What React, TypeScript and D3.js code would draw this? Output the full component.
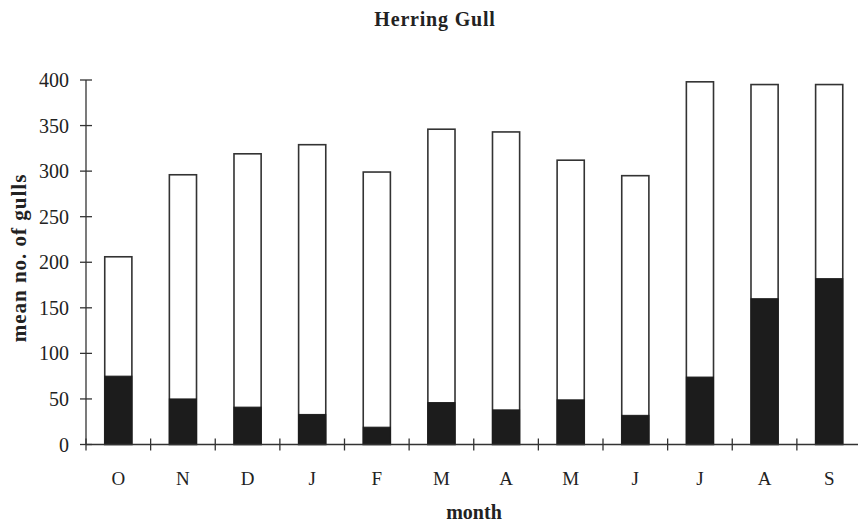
import React from "react";
import * as d3 from "d3";

const months = ["O", "N", "D", "J", "F", "M", "A", "M", "J", "J", "A", "S"];
const totals = [206, 296, 319, 329, 299, 346, 343, 312, 295, 398, 395, 395];
const blackValues = [75, 50, 41, 33, 19, 46, 38, 49, 32, 74, 160, 182];
const yTicks = [0, 50, 100, 150, 200, 250, 300, 350, 400];

const W = 858;
const H = 529;
const left = 86;
const right = 861.5;
const top = 80;
const bottom = 444.5;
const FONT = "'Liberation Serif', 'Times New Roman', serif";

export default function App() {
  const idx = months.map((_, i) => String(i));
  const x = d3
    .scaleBand<string>()
    .domain(idx)
    .range([left, right])
    .paddingInner(0.58)
    .paddingOuter(0.29);
  const y = d3.scaleLinear().domain([0, 400]).range([bottom, top]);
  const step = x.step();
  const x0 = x(idx[0])! - x.paddingOuter() * step;
  const bw = x.bandwidth();

  return (
    <svg
      width={W}
      height={H}
      style={{ position: "absolute", left: 0, top: 0, background: "#fff" }}
      fontFamily={FONT}
    >
      <rect x={0} y={0} width={W} height={H} fill="#fff" />
      <text x={435} y={26} textAnchor="middle" fontSize={20} letterSpacing={0.8} fontWeight="bold" fill="#222">
        Herring Gull
      </text>

      {/* bars */}
      {months.map((m, i) => (
        <g key={i}>
          <rect
            x={x(idx[i])!}
            y={y(totals[i])}
            width={bw}
            height={y(0) - y(totals[i])}
            fill="#fff"
            stroke="#333"
            strokeWidth={1.6}
          />
          <rect
            x={x(idx[i])!}
            y={y(blackValues[i])}
            width={bw}
            height={y(0) - y(blackValues[i])}
            fill="#1c1c1c"
            stroke="#1c1c1c"
            strokeWidth={1}
          />
        </g>
      ))}

      {/* y axis */}
      <line x1={left} x2={left} y1={y(400)} y2={y(0)} stroke="#333" strokeWidth={1.3} />
      {yTicks.map((t) => (
        <g key={t}>
          <line x1={left - 6} x2={left + 6} y1={y(t)} y2={y(t)} stroke="#333" strokeWidth={1.3} />
          <text x={69} y={y(t) + 7} textAnchor="end" fontSize={20} fill="#222">
            {t}
          </text>
        </g>
      ))}

      {/* x axis */}
      <line x1={left} x2={right} y1={y(0)} y2={y(0)} stroke="#333" strokeWidth={1.3} />
      {d3.range(months.length + 1).map((i) => (
        <line
          key={i}
          x1={x0 + i * step}
          x2={x0 + i * step}
          y1={y(0) - 6}
          y2={y(0) + 6}
          stroke="#333"
          strokeWidth={1.3}
        />
      ))}
      {months.map((m, i) => (
        <text
          key={i}
          x={x(idx[i])! + bw / 2}
          y={485}
          textAnchor="middle"
          fontSize={19}
          fill="#222"
        >
          {m}
        </text>
      ))}

      <text x={474} y={519} textAnchor="middle" fontSize={20} fontWeight="bold" fill="#222">
        month
      </text>
      <text
        transform={`translate(26, 258) rotate(-90)`}
        textAnchor="middle"
        fontSize={21}
        letterSpacing={1}
        fontWeight="bold"
        fill="#222"
      >
        mean no. of gulls
      </text>
    </svg>
  );
}
